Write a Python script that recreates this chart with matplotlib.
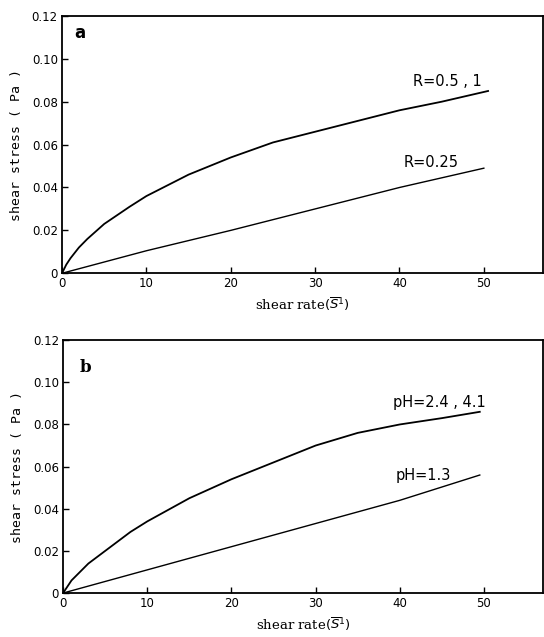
import matplotlib.pyplot as plt
import numpy as np

# panel a : shear stress vs shear rate, different R
rate_a_hi = [0, 0.5, 1, 2, 3, 5, 8, 10, 15, 20, 25, 30, 35, 40, 45, 50.5]
stress_a_hi = [0, 0.004, 0.007, 0.012, 0.016, 0.023, 0.031, 0.036, 0.046, 0.054, 0.061, 0.066, 0.071, 0.076, 0.080, 0.085]
rate_a_lo = [0, 10, 20, 30, 40, 50]
stress_a_lo = [0, 0.0105, 0.020, 0.030, 0.040, 0.049]

# panel b : different pH
rate_b_hi = [0, 0.5, 1, 2, 3, 5, 8, 10, 15, 20, 25, 30, 35, 40, 45, 49.5]
stress_b_hi = [0, 0.003, 0.006, 0.010, 0.014, 0.020, 0.029, 0.034, 0.045, 0.054, 0.062, 0.070, 0.076, 0.080, 0.083, 0.086]
rate_b_lo = [0, 10, 20, 30, 40, 49.5]
stress_b_lo = [0, 0.011, 0.022, 0.033, 0.044, 0.056]

yticks = [0, 0.02, 0.04, 0.06, 0.08, 0.10, 0.12]
ylabels = ['0', '0.02', '0.04', '0.06', '0.08', '0.10', '0.12']
xticks = [0, 10, 20, 30, 40, 50]

fig = plt.figure(figsize=(5.44, 6.37), dpi=100)
ax1 = fig.add_axes([0.114, 0.571, 0.884, 0.404])
ax2 = fig.add_axes([0.116, 0.069, 0.882, 0.397])

panels = [
    (ax1, 'a', rate_a_hi, stress_a_hi, rate_a_lo, stress_a_lo, 'R=0.5 , 1', 'R=0.25',
     (45.7, 0.0875), (43.8, 0.0495), (1.5, 0.112), 'DejaVu Sans'),
    (ax2, 'b', rate_b_hi, stress_b_hi, rate_b_lo, stress_b_lo, 'pH=2.4 , 4.1', 'pH=1.3',
     (44.7, 0.0885), (42.8, 0.0535), (2.0, 0.107), 'DejaVu Serif'),
]

for ax, tag, xh, yh, xl, yl, lab_h, lab_l, pos_h, pos_l, pos_t, tagfont in panels:
    ax.plot(xh, yh, color='black', lw=1.3)
    ax.plot(xl, yl, color='black', lw=1.0)
    ax.set_xlim(0, 57)
    ax.set_ylim(0, 0.12)
    ax.set_xticks(xticks)
    ax.set_yticks(yticks)
    ax.set_yticklabels(ylabels)
    ax.tick_params(direction='in', length=4, labelsize=8.5, width=1, pad=3)
    for s in ax.spines.values():
        s.set_linewidth(1.3)
    ax.text(pos_h[0], pos_h[1], lab_h, ha='center', va='baseline', fontsize=10.5)
    ax.text(pos_l[0], pos_l[1], lab_l, ha='center', va='baseline', fontsize=10.5)
    ax.text(pos_t[0], pos_t[1], tag, fontsize=12, fontweight='bold', family=tagfont, va='center')
    ax.set_xlabel('shear rate$(\\overline{S}^{1})$', family='DejaVu Serif', fontsize=9.5, labelpad=4)
    ax.set_ylabel('shear stress ( Pa )', family='DejaVu Sans Mono', fontsize=9.5, labelpad=6)

fig.savefig('out.png', dpi=100)
